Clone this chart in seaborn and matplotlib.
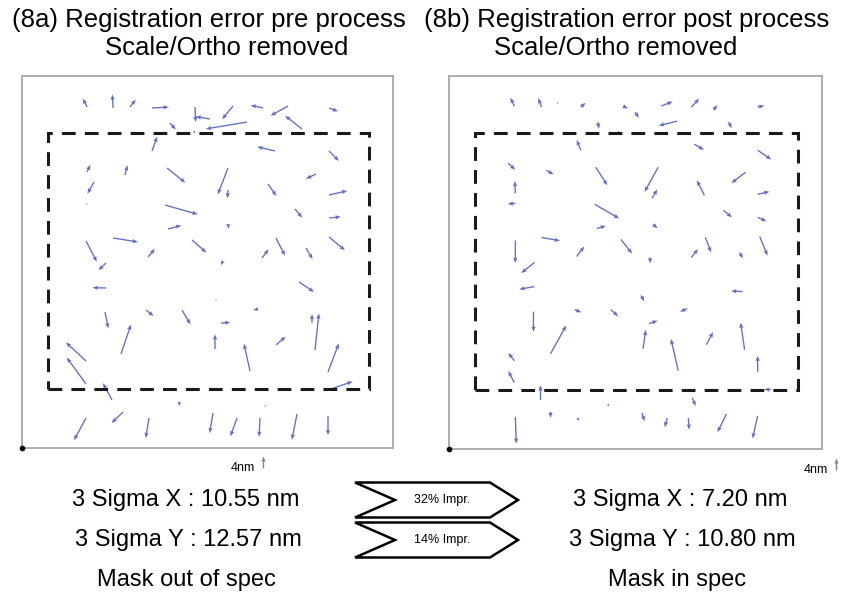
import numpy as np
import pandas as pd
import seaborn as sns
import matplotlib
matplotlib.use("Agg")
import matplotlib.pyplot as plt
from matplotlib.patches import Rectangle, Polygon

# ---------------- data ----------------
# site positions (a.u., origin = lower-left corner of mask field) and error vectors (nm)
pre_x = [65, 91, 108, 130, 173, 188, 211, 241, 266, 307, 148, 225, 280, 172, 130, 253, 307,
         65, 103, 145, 206, 206, 294, 72, 246, 307, 65, 143, 273, 307, 146, 206, 91, 64, 170,
         254, 307, 126, 240, 284, 84, 201, 84, 277, 194, 236, 124, 160, 199, 83, 290, 293, 99,
         64, 64, 193, 254, 228, 306, 90, 309, 157, 243, 64, 101, 127, 191, 215, 238, 275, 306]
pre_y = [341, 340, 341, 340, 341, 329, 342, 340, 342, 340, 325, 326, 319, 317, 297, 297, 297,
         276, 273, 280, 280, 258, 274, 266, 264, 253, 244, 243, 239, 230, 219, 224, 210, 207, 208,
         210, 211, 191, 190, 200, 185, 187, 160, 166, 148, 139, 138, 138, 125, 136, 125, 98, 94,
         87, 64, 99, 103, 77, 76, 48, 59, 46, 42, 30, 36, 30, 35, 30, 30, 34, 32]
pre_u = [-1.4, -0.2, 1.9, 5.6, 0.2, -4.8, -3.6, -4.1, -5.8, 3.0, 1.9, -13.7, -5.6, 0.2, 1.7, -5.9, 3.3,
         1.1, 0.8, 6.1, -3.4, -0.2, -3.3, -2.2, 2.8, 6.1, 0.1, 10.9, 2.4, 3.9, 4.4, 0.2, 8.3, 3.6, 4.8,
         3.0, 5.3, 2.3, 2.2, 2.2, -2.5, -0.7, -4.5, 5.0, 0.1, -1.6, 2.5, 2.8, 3.1, 1.1, 0.0, 1.3, 3.3,
         -6.7, -6.4, 0.0, 3.2, -2.0, 3.6, -3.0, 7.2, 0.2, 0.5, -4.0, -3.8, -1.1, -1.1, -2.2, -0.3, -1.7, 0.0]
pre_v = [2.8, 4.5, 2.5, 0.3, -5.0, 0.8, -4.4, 0.9, -3.2, -1.1, -2.2, -2.3, 4.4, -0.9, 4.8, 1.4, -3.3,
         2.4, 3.3, -4.9, -8.8, -2.8, -1.6, -3.9, -4.0, 1.4, -0.3, -3.1, -2.9, 0.4, 1.2, -1.6, -1.3, -6.9, -4.2,
         -5.9, -4.4, 2.7, 2.9, -3.7, -2.4, -1.4, 0.1, -3.3, -0.3, -0.3, -2.0, -4.8, 0.2, -5.5, 3.0, 12.2, 9.8,
         6.2, 8.8, 4.9, 2.8, 9.1, 9.5, 5.6, 2.5, -1.4, 0.3, -7.4, -3.7, -6.7, -6.7, -6.1, -6.3, -8.6, -6.4]

post_x = [65, 92, 108, 131, 173, 185, 211, 241, 263, 307, 148, 227, 278, 168, 131, 244, 307,
          59, 97, 146, 208, 202, 295, 66, 254, 307, 66, 145, 273, 307, 147, 203, 92, 66, 171,
          255, 309, 127, 241, 289, 200, 85, 85, 292, 191, 125, 161, 237, 199, 84, 294, 101,
          65, 65, 193, 256, 228, 307, 91, 320, 158, 242, 66, 101, 128, 192, 217, 238, 276, 307]
post_y = [342, 341, 345, 341, 342, 336, 342, 341, 338, 341, 326, 327, 326, 315, 298, 304, 298,
          285, 278, 281, 281, 250, 276, 255, 253, 254, 245, 244, 238, 231, 220, 224, 211, 208, 209,
          211, 212, 192, 191, 196, 191, 186, 162, 157, 153, 139, 139, 140, 125, 137, 99, 95,
          88, 66, 100, 104, 78, 77, 49, 59, 43, 51, 32, 37, 31, 36, 31, 31, 35, 33]
post_u = [-1.3, -1.1, 0.2, 1.6, 1.7, 1.3, 3.8, 2.6, 1.3, 2.2, 0.4, -6.1, 1.1, 1.7, -1.3, 3.2, 4.5,
          2.3, 2.3, 3.8, -4.5, 1.7, -4.7, -0.2, -2.5, 3.9, -2.5, 8.1, 2.8, 2.9, 3.0, 1.5, 6.1, 0.0, 3.7,
          1.9, 2.6, 2.5, 2.2, 1.1, 0.0, -4.4, -5.0, -3.8, 1.1, 2.2, 2.4, -2.4, 2.8, 0.0, -1.3, 5.2,
          -2.0, -2.0, 0.9, 2.2, -2.4, 0.0, 0.0, -2.2, 0.4, 1.1, 0.3, 0.0, 0.3, 0.8, -0.8, 0.3, -3.0, -1.7]
post_v = [2.8, 3.0, -0.3, 1.4, -0.8, -1.9, 1.5, 2.8, 1.7, 0.5, -2.2, -1.5, -2.0, 0.0, 3.4, -1.9, -3.1,
          -2.2, -1.4, -6.0, -8.2, 3.0, -3.6, 4.1, 5.0, 0.9, -0.2, -4.7, -2.3, -1.3, 0.8, -1.3, -1.1, -7.5, -4.7,
          -5.0, -6.4, 3.3, 2.8, -2.0, -2.0, -3.5, -0.9, 0.2, -1.9, -0.9, -2.2, -1.0, 1.0, -6.7, 9.0, 9.4,
          2.6, 3.9, 6.3, 4.2, 10.6, 5.3, 4.8, 0.2, 0.8, -2.7, -8.9, -2.0, -1.1, -2.8, -3.1, -3.9, -6.1, -7.5]

panel_titles = ["(8a) Registration error pre process", "(8b) Registration error post process"]
panel_subtitle = "Scale/Ortho removed"
sigma_x = [10.55, 7.20]
sigma_y = [12.57, 10.80]
verdicts = ["Mask out of spec", "Mask in spec"]
improvements = ["32% Impr.", "14% Impr."]
key_nm = 4

field_w, field_h = 371, 372          # mask field extent (a.u.)
spec_box = (26, 59, 321, 256)        # spec region: x0, y0, width, height (a.u.)
px_per_nm = 3.0                      # vector magnification

# ---------------- figure ----------------
sns.set_theme(style="white")
plt.rcParams["font.family"] = ["Liberation Sans", "DejaVu Sans"]
plt.rcParams["text.color"] = "black"

fig = plt.figure(figsize=(8.42, 5.99), dpi=100)
axes = [fig.add_axes([22 / 842, 151 / 599, 371 / 842, 372 / 599]),
        fig.add_axes([449 / 842, 150 / 599, 373 / 842, 373 / 599])]

datasets = [
    pd.DataFrame({"x": pre_x, "y": pre_y, "u": pre_u, "v": pre_v}),
    pd.DataFrame({"x": post_x, "y": post_y, "u": post_u, "v": post_v}),
]

arrow_col = "#5060c0"
key_x = [0.65, 1.037]
for i, (ax, df) in enumerate(zip(axes, datasets)):
    ax.set_xlim(0, field_w)
    ax.set_ylim(0, field_h)
    ax.set_xticks([])
    ax.set_yticks([])
    for s in ax.spines.values():
        s.set_color("#a8a8a8")
        s.set_linewidth(1.3)
    q = ax.quiver(df["x"], df["y"], df["u"], df["v"], angles="xy", scale_units="xy",
                  scale=1 / px_per_nm, color=arrow_col, alpha=0.9, width=0.0036,
                  headwidth=3.2, headlength=4.0, headaxislength=3.6)
    ax.add_patch(Rectangle((spec_box[0], spec_box[1]), spec_box[2], spec_box[3], fill=False,
                           edgecolor="#1a1a1a", linewidth=2.2, linestyle=(0, (4.5, 3))))
    sns.scatterplot(x=[0], y=[0], ax=ax, color="black", s=14, clip_on=False, legend=False,
                    edgecolor="black", zorder=5)
    ax.set_xlabel("")
    ax.set_ylabel("")
    ax.quiverkey(q, key_x[i], -0.055, key_nm, f"{key_nm}nm", angle=90, labelpos="W",
                 coordinates="axes", color="#777777", labelsep=0.08,
                 fontproperties={"size": 9})

# titles
fs_t = 18.5
fig.text(209 / 842, 1 - 20 / 599, panel_titles[0], ha="center", va="center", fontsize=fs_t)
fig.text(227 / 842, 1 - 48 / 599, panel_subtitle, ha="center", va="center", fontsize=fs_t)
fig.text(627 / 842, 1 - 20 / 599, panel_titles[1], ha="center", va="center", fontsize=fs_t)
fig.text(616 / 842, 1 - 48 / 599, panel_subtitle, ha="center", va="center", fontsize=fs_t)

# statistics
fs_s = 17
for i, cx in enumerate([186 / 842, 680 / 842]):
    fig.text(cx, 1 - 500 / 599, f"3 Sigma X : {sigma_x[i]:.2f} nm", ha="center", va="center", fontsize=fs_s)
    fig.text(cx + 2 / 842, 1 - 540 / 599, f"3 Sigma Y : {sigma_y[i]:.2f} nm", ha="center", va="center", fontsize=fs_s)
    fig.text(cx - (0 if i == 0 else 3 / 842), 1 - 580 / 599, verdicts[i], ha="center", va="center", fontsize=fs_s)

# improvement chevrons
for j, yc in enumerate([500, 540]):
    h = 17.5
    pts = [(355, yc - h), (490, yc - h), (518, yc), (490, yc + h), (355, yc + h), (395, yc)]
    pts = [(px / 842, 1 - py / 599) for px, py in pts]
    fig.patches.append(Polygon(pts, closed=True, transform=fig.transFigure, facecolor="white",
                               edgecolor="black", linewidth=1.8, zorder=3))
    fig.text(442 / 842, 1 - yc / 599, improvements[j], ha="center", va="center", fontsize=9, zorder=4)

fig.savefig("out.png", dpi=100)
